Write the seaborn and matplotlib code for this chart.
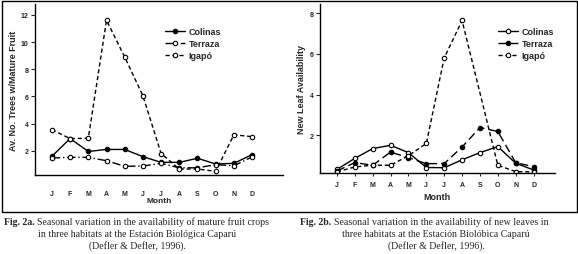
import numpy as np
import matplotlib
matplotlib.use('Agg')
import matplotlib.pyplot as plt
import seaborn as sns
import pandas as pd
from matplotlib.patches import Rectangle

# Month ticks
months = ["J", "F", "M", "A", "M", "J", "J", "A", "S", "O", "N", "D"]
pos = list(range(12))

# Fig. 2a - trees with mature fruit
fruit_colinas = [1.6, 2.9, 1.95, 2.1, 2.1, 1.57, 1.15, 1.15, 1.45, 1.03, 1.08, 1.72]
fruit_terraza = [1.47, 1.52, 1.52, 1.27, 0.86, 0.88, 1.08, 0.75, 0.75, 0.98, 0.9, 1.55]
fruit_igapo = [3.55, 2.9, 2.92, 11.6, 8.9, 6.05, 1.8, 0.66, 0.66, 0.49, 3.18, 3.04]

# Fig. 2b - new leaf availability (Igapó has no point at S)
leaf_colinas = [0.33, 0.87, 1.35, 1.51, 1.15, 0.42, 0.41, 0.8, 1.15, 1.45, 0.63, 0.3]
leaf_terraza = [0.25, 0.66, 0.53, 1.18, 0.9, 0.61, 0.61, 1.43, 2.38, 2.19, 0.66, 0.46]
leaf_igapo = [0.2, 0.45, 0.53, 0.53, 1.0, 1.6, 5.8, 7.64, np.nan, 0.53, 0.22, 0.2]

sns.set_style("white")
plt.rcParams['font.family'] = ['Liberation Sans', 'DejaVu Sans']

fig = plt.figure(figsize=(5.78, 2.55), dpi=100)
fig.patches.append(Rectangle((1.5 / 578, 1 - 213 / 255), 575 / 578, 211.5 / 255,
                             transform=fig.transFigure, fill=False, lw=1.0, ec='black'))

ax1 = fig.add_axes([35 / 578, 1 - 176 / 255, 248 / 578, 171 / 255])
ax2 = fig.add_axes([320 / 578, 1 - 174 / 255, 235 / 578, 169 / 255])


def draw(ax, df, styles):
    for name, (ls, mfc) in styles.items():
        d = df[df["habitat"] == name].dropna()
        sns.lineplot(data=d, x="pos", y="value", ax=ax, color="black", lw=1.0,
                     linestyle=ls, marker="o", markersize=3.2, markerfacecolor=mfc,
                     markeredgecolor="black", markeredgewidth=0.8, label=name)


df1 = pd.DataFrame({
    "pos": pos * 3,
    "value": fruit_colinas + fruit_terraza + fruit_igapo,
    "habitat": ["Colinas"] * 12 + ["Terraza"] * 12 + ["Igapó"] * 12,
})
df2 = pd.DataFrame({
    "pos": pos * 3,
    "value": leaf_colinas + leaf_terraza + leaf_igapo,
    "habitat": ["Colinas"] * 12 + ["Terraza"] * 12 + ["Igapó"] * 12,
})

draw(ax1, df1, {"Colinas": ("-", "black"), "Terraza": ((0, (6, 2, 1, 2)), "white"),
                "Igapó": ((0, (3, 2)), "white")})
draw(ax2, df2, {"Colinas": ("-", "white"), "Terraza": ((0, (6, 3)), "black"),
                "Igapó": ((0, (3, 2)), "white")})

ax1.set_xlim(-0.93, 12.7)
ax1.set_ylim(0.22, 12.8)
ax1.set_yticks([2, 4, 6, 8, 10, 12])
ax2.set_xlim(-0.95, 12.2)
ax2.set_ylim(0.15, 8.45)
ax2.set_yticks([2, 4, 6, 8])

for ax in (ax1, ax2):
    sns.despine(ax=ax)
    ax.set_facecolor('none')
    ax.set_xticks(pos)
    ax.set_xticklabels(months)
    for s in ("left", "bottom"):
        ax.spines[s].set_linewidth(1.0)
        ax.spines[s].set_color("black")
    ax.tick_params(axis='y', direction='out', length=3, width=0.8, labelsize=5, pad=1.5, left=True)
    for lab in ax.get_xticklabels() + ax.get_yticklabels():
        lab.set_fontweight('bold')
    ax.grid(False)

ax1.tick_params(axis='x', length=0, labelsize=5, pad=11)
ax2.tick_params(axis='x', direction='out', length=2.5, width=0.8, labelsize=5, pad=3, bottom=True)

ax1.set_xlabel("Month", fontsize=6, fontweight='bold', labelpad=0)
ax2.set_xlabel("Month", fontsize=6.5, fontweight='bold', labelpad=3)
ax1.set_ylabel("Av. No. Trees w/Mature Fruit", fontsize=6.5, fontweight='bold', labelpad=2)
ax2.set_ylabel("New Leaf Availability", fontsize=6.5, fontweight='bold', labelpad=3)

leg_kw = dict(loc='upper left', frameon=False, borderpad=0, borderaxespad=0,
              handlelength=2.2, handletextpad=0.4, labelspacing=0.35,
              prop={'weight': 'bold', 'size': 6.5}, bbox_transform=fig.transFigure)
ax1.legend(bbox_to_anchor=(165 / 578, 1 - 28 / 255), **leg_kw)
ax2.legend(bbox_to_anchor=(498 / 578, 1 - 28 / 255), **leg_kw)

# captions
serif = ['Liberation Serif', 'DejaVu Serif']
cap = 7.1


def caption(x0, y0, bold, rest, lines, cx):
    t = fig.text(x0 / 578, 1 - y0 / 255, bold, family=serif, fontsize=cap,
                 fontweight='bold', va='baseline', ha='left')
    ax1.annotate(rest, xy=(1, 0), xycoords=t, xytext=(2, 0), textcoords='offset points',
                 family=serif, fontsize=cap, va='bottom', ha='left', annotation_clip=False)
    for i, line in enumerate(lines):
        fig.text(cx / 578, 1 - (y0 + 12 * (i + 1)) / 255, line, family=serif,
                 fontsize=cap, va='baseline', ha='center')


caption(4, 225, "Fig. 2a.", "Seasonal variation in the availability of mature fruit crops",
        ["in three habitats at the Estación Biológica Caparú", "(Defler & Defler, 1996)."], 137)
caption(300, 225, "Fig. 2b.", "Seasonal variation in the availability of new leaves in",
        ["three habitats at the Estación Biolóbica Caparú", "(Defler & Defler, 1996)."], 436)

fig.savefig("out.png", dpi=100)
